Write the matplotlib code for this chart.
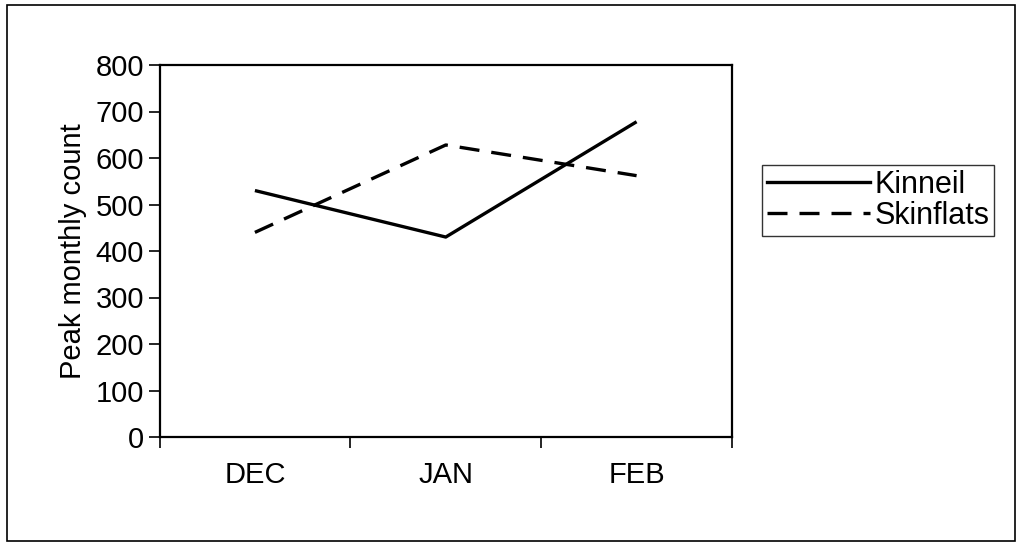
import matplotlib
matplotlib.use("Agg")
import matplotlib.pyplot as plt
from matplotlib.patches import Rectangle
from matplotlib.lines import Line2D

months = ["DEC", "JAN", "FEB"]
kinneil = [530, 430, 678]
skinflats = [440, 628, 562]
yticks = [0, 100, 200, 300, 400, 500, 600, 700, 800]

plt.rcParams['font.family'] = ['Liberation Sans', 'DejaVu Sans']
FS = 21

W, H = 1018, 543
fig = plt.figure(figsize=(W / 100, H / 100), dpi=100)
ax = fig.add_axes([159.5 / W, 1 - 437 / H, (732 - 159.5) / W, (437 - 65) / H])

x = list(range(len(months)))
ax.plot(x, kinneil, color='black', lw=2.4, solid_capstyle='butt', label='Kinneil')
ax.plot(x, skinflats, color='black', lw=2.4, dashes=(6, 3.6), dash_capstyle='butt', label='Skinflats')

ax.set_xlim(-0.5, len(months) - 0.5)
ax.set_ylim(0, 800)
ax.set_yticks(yticks)
ax.set_yticklabels([str(v) for v in yticks], fontsize=FS)
ax.set_xticks([i - 0.5 for i in range(len(months) + 1)])
ax.set_xticklabels([])
ax.set_xticks(x, minor=True)
ax.set_xticklabels(months, minor=True, fontsize=FS)
ax.tick_params(axis='x', which='minor', length=0, pad=17)
ax.tick_params(axis='x', which='major', direction='out', length=8, width=1.2)
ax.tick_params(axis='y', direction='out', length=8, width=1.2, pad=3)
for s in ax.spines.values():
    s.set_linewidth(1.6)
    s.set_color('black')
ax.set_ylabel("Peak monthly count", fontsize=FS, labelpad=6)

handles = [Line2D([], [], color='black', lw=2.4),
           Line2D([], [], color='black', lw=2.4, dashes=(6, 3.6))]
leg = fig.legend(handles, ["Kinneil", "Skinflats"], loc='upper left',
                 bbox_to_anchor=(762 / W, 1 - 165 / H), fontsize=22,
                 frameon=True, fancybox=False, edgecolor='black',
                 handlelength=3.4, handletextpad=0.12, borderpad=0.15,
                 labelspacing=0.05, borderaxespad=0)
leg.get_frame().set_linewidth(1.0)

fig.patches.append(Rectangle((7 / W, 1 - 541 / H), (1015 - 7) / W, (541 - 5) / H,
                             transform=fig.transFigure, fill=False,
                             edgecolor='black', lw=1.2))

fig.savefig("out.png", dpi=100)
